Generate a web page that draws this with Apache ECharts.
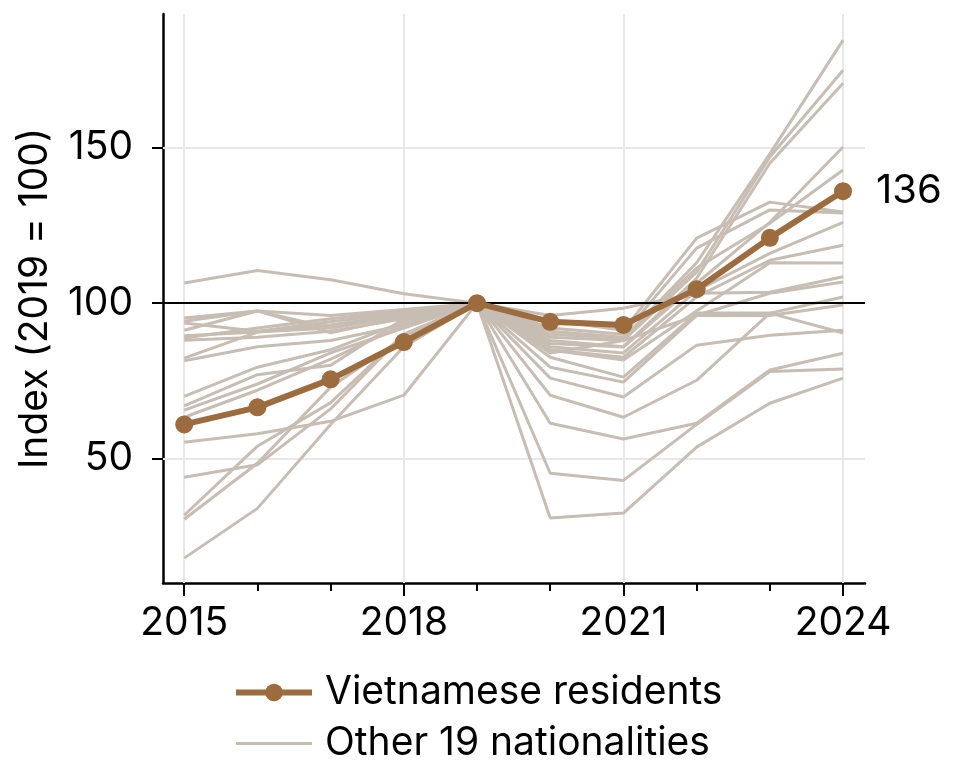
<!DOCTYPE html>
<html>
<head>
	<meta charset="utf-8">
	<title>Index (2019 = 100)</title>
	<script src="https://cdn.jsdelivr.net/npm/echarts@6.0.0/dist/echarts.min.js"></script>
	<style type="text/css">
		html, body { margin: 0; padding: 0; background: #fff; }
		#chart { width: 962px; height: 780px; }
	</style>
</head>
<body>
<div id="chart"></div>
<script type="text/javascript">

	// ================= data
	var years = [2015, 2016, 2017, 2018, 2019, 2020, 2021, 2022, 2023, 2024];
	var vietnam = [61, 66.5, 75.5, 87.5, 100, 94, 93, 104.5, 121, 136];
	// 19 other nationalities
	var others = [
		[106.5, 110.5, 107.5, 103, 100, 96, 98.4, 103.2, 103.5, 108.5],
		[95.2, 97.5, 96, 98, 100, 94.5, 91.3, 120.9, 132.5, 129.3],
		[94.2, 97.5, 92, 96, 100, 92, 90, 117.7, 130, 129],
		[93.6, 91, 94, 97, 100, 91, 89, 111.3, 125.7, 142.8],
		[91.3, 97.5, 90.5, 95.5, 100, 90, 88.7, 113, 148, 184.6],
		[89.5, 90.7, 93, 96.5, 100, 89, 88, 110, 147, 174.9],
		[88.8, 92, 95, 97.5, 100, 88, 86, 108, 145, 170.7],
		[88.1, 89, 91, 95, 100, 87, 85.9, 106.4, 126, 150.2],
		[82.3, 90.7, 92, 96, 100, 86, 84, 104, 116, 126],
		[81.5, 86, 88, 93, 100, 85, 82.6, 102, 113.8, 118.6],
		[70, 79.4, 85, 94, 100, 84.9, 81.7, 97.5, 113, 112.9],
		[65.6, 74, 84, 92, 100, 82.6, 76.2, 96.8, 96.8, 90.4],
		[63.3, 72, 82, 93, 100, 79.4, 74.6, 96.1, 103.2, 106.8],
		[55.3, 58, 62, 70.4, 100, 75.9, 69.8, 86.5, 89.7, 91.3],
		[44, 48, 66, 90, 100, 70.4, 63.3, 75.2, 96.8, 102],
		[31.8, 54, 68, 90, 100, 61.4, 56.3, 61.4, 78.5, 83.9],
		[30.5, 48.5, 73, 89, 100, 84, 88, 96, 96, 99.4],
		[18, 34, 61, 86, 100, 45.3, 43, 61, 78, 78.8],
		[67, 77, 80, 95, 100, 30.9, 32.5, 53.7, 67.8, 75.9]
	];
	var xMajor = [2015, 2018, 2021, 2024];
	var yTicks = [50, 100, 150];

	var FONT = 'Inter';
	var FS = 39;
	var BROWN = '#9c6b3e';
	var GREY = '#c7bdb3';

	function pairs(vals) {
		return vals.map(function(v, i) { return [years[i], v]; });
	}

	var series = [];

	// light grid lines
	series.push({
		name: 'grid',
		type: 'line',
		data: [],
		silent: true,
		markLine: {
			silent: true,
			symbol: 'none',
			z: 1,
			label: { show: false },
			lineStyle: { color: '#e8e8e8', width: 2, type: 'solid' },
			data: yTicks.filter(function(t) { return t != 100; }).map(function(t) { return { yAxis: t }; })
				.concat(xMajor.map(function(t) { return { xAxis: t }; }))
		}
	});

	others.forEach(function(row) {
		series.push({
			name: 'Other 19 nationalities',
			type: 'line',
			data: pairs(row),
			symbol: 'none',
			z: 2,
			silent: true,
			lineStyle: { color: GREY, width: 3 },
			itemStyle: { color: GREY }
		});
	});

	// reference line at 100
	series.push({
		name: 'ref',
		type: 'line',
		data: [],
		silent: true,
		markLine: {
			silent: true,
			symbol: 'none',
			z: 3,
			label: { show: false },
			lineStyle: { color: '#000', width: 2, type: 'solid' },
			data: [{ yAxis: 100 }]
		}
	});

	series.push({
		name: 'Vietnamese residents',
		type: 'line',
		z: 10,
		data: vietnam.map(function(v, i) {
			var item = { value: [years[i], v] };
			if (i == vietnam.length - 1) {
				item.label = {
					show: true,
					position: 'right',
					distance: 24,
					formatter: String(Math.round(v)),
					fontFamily: FONT,
					fontSize: FS + 1,
					color: '#000'
				};
			}
			return item;
		}),
		symbol: 'circle',
		symbolSize: 18,
		lineStyle: { color: BROWN, width: 6 },
		itemStyle: { color: BROWN }
	});

	var myChart = echarts.init(document.getElementById('chart'), null, { renderer: 'canvas' });
	var option = {
		animation: false,
		backgroundColor: '#fff',
		textStyle: { fontFamily: FONT },
		grid: { left: 163, right: 97, top: 14, bottom: 197, containLabel: false, outerBoundsMode: 'none' },
		legend: {
			data: [
				{ name: 'Vietnamese residents', lineStyle: { color: BROWN, width: 6 }, itemStyle: { color: BROWN } },
				{ name: 'Other 19 nationalities', lineStyle: { color: GREY, width: 3 }, itemStyle: { opacity: 0 } }
			],
			orient: 'vertical',
			left: 228,
			top: 668,
			itemWidth: 76,
			itemHeight: 22,
			itemGap: 12,
			selectedMode: false,
			textStyle: { fontFamily: FONT, fontSize: FS, color: '#000', padding: [0, 0, 0, 8] }
		},
		xAxis: [
			{
				type: 'value',
				min: 2014.71,
				max: 2024.3,
				position: 'bottom',
				axisLine: { show: true, onZero: false, lineStyle: { color: '#000', width: 2.5 } },
				axisTick: { show: true, length: 8, customValues: years, lineStyle: { color: '#000', width: 2 } },
				axisLabel: { show: false },
				splitLine: { show: false }
			},
			{
				type: 'value',
				min: 2014.71,
				max: 2024.3,
				position: 'bottom',
				axisLine: { show: false, onZero: false },
				axisTick: { show: true, length: 13, customValues: xMajor, lineStyle: { color: '#000', width: 2 } },
				axisLabel: {
					show: true, customValues: xMajor, margin: 21,
					fontFamily: FONT, fontSize: FS, color: '#000',
					formatter: function(v) { return String(v); }
				},
				splitLine: { show: false }
			}
		],
		yAxis: {
			type: 'value',
			min: 10,
			max: 193,
			name: 'Index (2019 = 100)',
			nameLocation: 'middle',
			nameGap: 108,
			nameTextStyle: { fontFamily: FONT, fontSize: FS, color: '#000' },
			axisLine: { show: true, onZero: false, lineStyle: { color: '#000', width: 2.5 } },
			axisTick: { show: true, length: 11, customValues: yTicks, lineStyle: { color: '#000', width: 2 } },
			axisLabel: {
				show: true, customValues: yTicks, margin: 30,
				fontFamily: FONT, fontSize: FS, color: '#000'
			},
			splitLine: { show: false }
		},
		series: series
	};
	myChart.setOption(option);

	window.onresize = function() { myChart.resize(); };
</script>
</body>
</html>
